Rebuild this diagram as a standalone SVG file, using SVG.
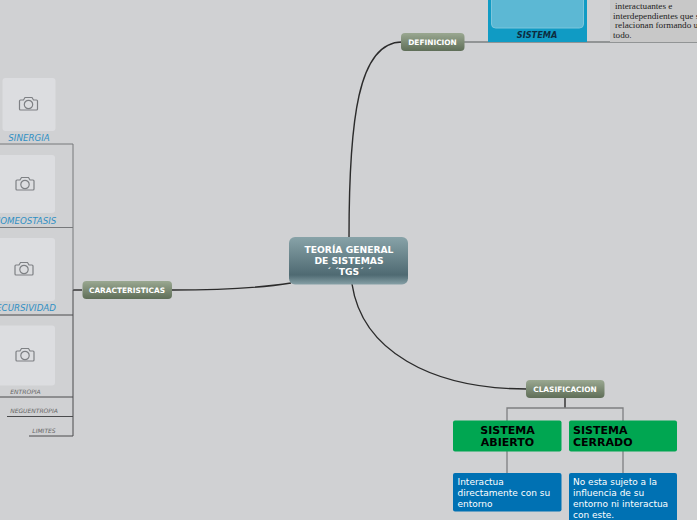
<svg xmlns="http://www.w3.org/2000/svg" width="697" height="520" viewBox="0 0 697 520">
<style>
text{font-family:"DejaVu Sans",Verdana,sans-serif}
.b{fill:#fff;font-weight:700;font-size:7.4px;text-anchor:middle}
.lk{fill:none;stroke:#2b2b2b;stroke-width:1.4}
.ln{fill:none;stroke:#7d7f81;stroke-width:1.3}
.ld{fill:none;stroke:#77797b;stroke-width:1}
.le{fill:none;stroke:#4a4b4d;stroke-width:1}
.ph{fill:#dcdde0}
.cam{fill:none;stroke:#7e8084;stroke-width:1.2}
.cap{fill:#2f8fc4;font-style:italic;font-size:8.7px;text-anchor:middle}
.sm{fill:#666;font-style:italic;font-size:6px;text-anchor:middle}
.g{fill:#00a651}
.gt{fill:#000;font-weight:700;font-size:11px}
.bl{fill:#0071b3}
.bt{fill:#fff;font-size:9px}
.st{font-family:"Liberation Serif",serif;font-size:9.2px;fill:#222}
</style>
<defs>
<linearGradient id="gn" x1="0" y1="0" x2="0" y2="1"><stop offset="0" stop-color="#9aa891"/><stop offset="1" stop-color="#5f6e58"/></linearGradient>
<linearGradient id="gc" x1="0" y1="0" x2="0" y2="1"><stop offset="0" stop-color="#88a3a8"/><stop offset=".8" stop-color="#4f6a72"/><stop offset="1" stop-color="#86a0a6"/></linearGradient>
<g id="cam"><path class="cam" d="M-8-5h3l1.500-2.500h7L5-5h3q1 0 1 1v8q0 1-1 1h-16q-1 0-1-1v-8q0-1 1-1z"/><circle class="cam" cx="0" cy="-.5" r="4.200"/></g>
</defs>
<rect width="697" height="520" fill="#d0d1d3"/>
<g id="connectors">
<path class="lk" d="M349 238C349 120 358 42 402 42"/>
<path class="lk" d="M291 283C260 288 210 290 172 290"/>
<path class="lk" d="M352 284C362 350 430 389 527 389"/>
<path class="ln" d="M464 42H697"/>
<path class="lk" d="M82 290H73"/>
<path class="ld" d="M73 290V144H0M73 227.500H0"/>
<path class="le" d="M73 290V436M73 315H0M73 397H0M73 416.500H7M73 436H29"/>
<path class="lk" stroke-width="1" d="M565 397V408"/>
<path class="ln" d="M507 421V408H623V421M507 451V473M623 451V473"/>
</g>
<g id="node-sistema">
<rect x="488" y="-10" width="99" height="52" fill="#109bc4"/>
<rect x="491.500" y="-10" width="92" height="38" rx="4" fill="#5cb8d4" stroke="#7cc6dc"/>
<text x="537" y="38" text-anchor="middle" font-family="'DejaVu Serif',serif" font-weight="700" font-style="italic" font-size="8.200" fill="#0d2c40">SISTEMA</text>
</g>
<g id="node-texto">
<rect x="610" y="-10" width="87" height="52" fill="#c8c8c8"/>
<text class="st" x="615" y="9">interactuantes e</text>
<text class="st" x="613" y="19">interdependientes que se</text>
<text class="st" x="615" y="28">relacionan formando un</text>
<text class="st" x="613" y="38">todo.</text>
</g>
<g id="node-definicion">
<rect x="401" y="33" width="63.500" height="18" rx="4" fill="url(#gn)"/>
<text class="b" x="432.500" y="45">DEFINICION</text>
</g>
<g id="node-central">
<rect x="289" y="237" width="119" height="47.500" rx="6" fill="url(#gc)"/>
<g fill="#fff" font-weight="700" font-size="9.200" text-anchor="middle">
<text x="349" y="253">TEORÍA GENERAL</text>
<text x="349" y="264">DE SISTEMAS</text>
<text x="349" y="275">´ ´TGS´ ´</text>
</g>
</g>
<g id="node-caracteristicas">
<rect x="82.500" y="281" width="89.500" height="18" rx="4" fill="url(#gn)"/>
<text class="b" x="127" y="293">CARACTERISTICAS</text>
</g>
<g id="node-clasificacion">
<rect x="526" y="380" width="78.500" height="18" rx="4" fill="url(#gn)"/>
<text class="b" x="565" y="392">CLASIFICACION</text>
</g>
<g id="node-sinergia">
<rect class="ph" x="2.500" y="78" width="53" height="53" rx="3"/>
<use href="#cam" x="28.500" y="105"/>
<text class="cap" x="29" y="140.500">SINERGIA</text>
</g>
<g id="node-homeostasis">
<rect class="ph" x="-3" y="155" width="58" height="58" rx="3"/>
<use href="#cam" x="25" y="185"/>
<text class="cap" x="25" y="223.500">HOMEOSTASIS</text>
</g>
<g id="node-recursividad">
<rect class="ph" x="-3" y="238" width="58" height="63" rx="3"/>
<use href="#cam" x="24" y="270"/>
<text class="cap" x="23" y="310.500">RECURSIVIDAD</text>
</g>
<g id="node-entropia">
<rect class="ph" x="-3" y="325.500" width="58" height="60" rx="3"/>
<use href="#cam" x="25" y="356"/>
<text class="sm" x="25.500" y="393.500">ENTROPIA</text>
</g>
<g id="node-neguentropia"><text class="sm" x="34" y="413">NEGUENTROPIA</text></g>
<g id="node-limites"><text class="sm" x="44" y="432.500">LIMITES</text></g>
<g id="node-abierto">
<rect class="g" x="453" y="420.500" width="108.500" height="31" rx="2"/>
<g class="gt" text-anchor="middle"><text x="507.500" y="434">SISTEMA</text><text x="507.500" y="446">ABIERTO</text></g>
</g>
<g id="node-cerrado">
<rect class="g" x="569" y="420.500" width="108" height="31" rx="2"/>
<g class="gt"><text x="573" y="434">SISTEMA</text><text x="573" y="446">CERRADO</text></g>
</g>
<g id="node-abierto-desc">
<rect class="bl" x="453" y="473" width="108.500" height="38.500" rx="2"/>
<text class="bt" x="457.500" y="485">Interactua</text>
<text class="bt" x="457.500" y="496">directamente con su</text>
<text class="bt" x="457.500" y="507">entorno</text>
</g>
<g id="node-cerrado-desc">
<rect class="bl" x="569" y="473" width="108" height="52" rx="2"/>
<text class="bt" x="573" y="485">No esta sujeto a la</text>
<text class="bt" x="573" y="496">influencia de su</text>
<text class="bt" x="573" y="507">entorno ni interactua</text>
<text class="bt" x="573" y="518">con este.</text>
</g>
</svg>
